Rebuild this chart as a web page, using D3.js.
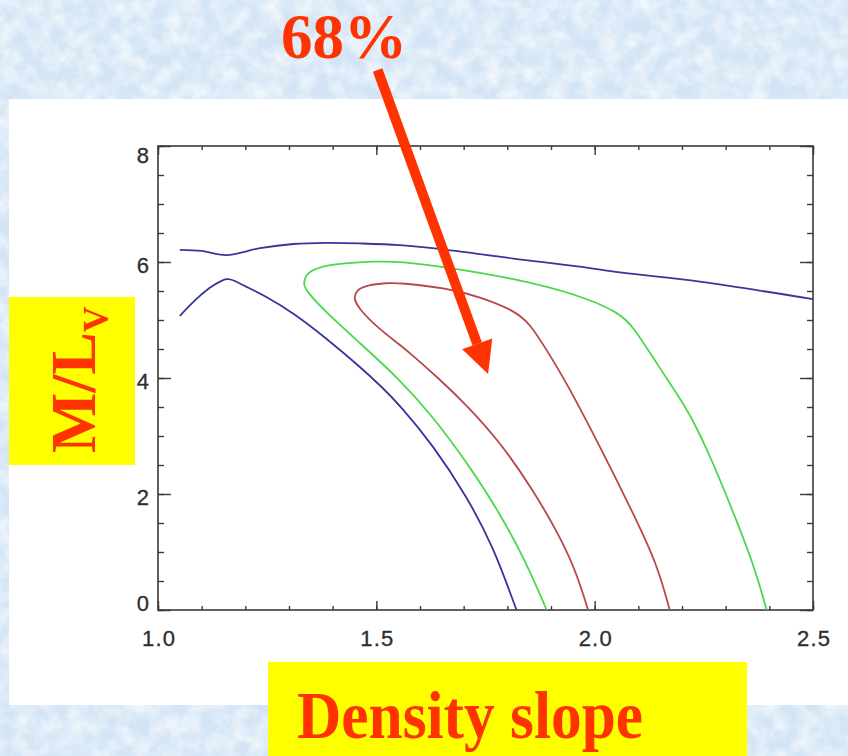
<!DOCTYPE html>
<html>
<head>
<meta charset="utf-8">
<script src="https://cdn.jsdelivr.net/npm/d3@7"></script>
<style>
  html, body { margin: 0; padding: 0; background: #d6e6f6; }
  svg { display: block; }
</style>
</head>
<body>
<svg id="chart" width="848" height="756"></svg>
<script>
// ---------- data ----------
const xTicks = [1.0, 1.5, 2.0, 2.5];
const yTicks = [0, 2, 4, 6, 8];
const xLabel = "Density slope";
const yLabelMain = "M/L";
const yLabelSub = "V";
const annotation = "68%";

// blue contour (outermost level): upper branch and lower branch
const blueUpper = [[1.050,6.21],[1.100,6.19],[1.157,6.12],[1.234,6.24],[1.310,6.31],[1.386,6.33],[1.463,6.32],[1.554,6.29],[1.661,6.21],[1.814,6.06],[1.966,5.92],[2.058,5.82],[2.241,5.66],[2.500,5.36]];
const blueLower = [[1.050,5.07],[1.081,5.32],[1.119,5.57],[1.150,5.70],[1.161,5.71],[1.175,5.68],[1.195,5.60],[1.249,5.40],[1.310,5.12],[1.386,4.68],[1.463,4.19],[1.512,3.85],[1.554,3.53],[1.630,2.84],[1.707,1.96],[1.768,1.09],[1.821,0]];
// green contour
const greenLevel = [[1.890,0],[1.844,0.81],[1.783,1.67],[1.707,2.55],[1.630,3.33],[1.554,3.97],[1.463,4.60],[1.386,5.12],[1.337,5.52],[1.333,5.63],[1.340,5.81],[1.371,5.92],[1.424,5.98],[1.501,6.01],[1.554,6.01],[1.661,5.91],[1.814,5.72],[1.966,5.43],[2.058,5.12],[2.088,4.88],[2.127,4.43],[2.180,3.82],[2.218,3.39],[2.272,2.53],[2.318,1.67],[2.363,0.81],[2.394,0]];
// red contour (68%)
const redLevel = [[1.985,0],[1.959,0.63],[1.921,1.26],[1.859,2.07],[1.783,2.90],[1.707,3.53],[1.646,3.97],[1.585,4.38],[1.554,4.57],[1.501,4.88],[1.463,5.17],[1.447,5.37],[1.455,5.52],[1.478,5.60],[1.524,5.64],[1.554,5.64],[1.661,5.55],[1.737,5.40],[1.814,5.17],[1.852,4.94],[1.890,4.48],[1.932,3.97],[2.012,2.82],[2.088,1.67],[2.142,0.81],[2.172,0]];
// annotation arrow, in data units
const arrowFrom = [1.503, 9.31];
const arrowTo = [1.756, 4.07];

// ---------- layout ----------
const svg = d3.select("#chart");
const W = 848, H = 756;
const plot = {left: 158, right: 813, top: 146, bottom: 610};
const x = d3.scaleLinear().domain([1.0, 2.5]).range([plot.left, plot.right]);
const y = d3.scaleLinear().domain([0, 8]).range([plot.bottom, plot.top]);
const RED = "#ff3300";

// background marble
const defs = svg.append("defs");
const f = defs.append("filter").attr("id", "marble").attr("x", 0).attr("y", 0).attr("width", "100%").attr("height", "100%");
f.append("feTurbulence").attr("type", "fractalNoise").attr("baseFrequency", "0.06").attr("numOctaves", 4).attr("seed", 7);
f.append("feColorMatrix").attr("type", "matrix")
  .attr("values", "0 0 0 0 1  0 0 0 0 1  0 0 0 0 1  1.3 0 0 0 -0.4");
svg.append("rect").attr("width", W).attr("height", H).attr("fill", "#d2e4f5");
svg.append("rect").attr("width", W).attr("height", H).attr("filter", "url(#marble)");

// white panel
svg.append("rect").attr("x", 9).attr("y", 99).attr("width", W - 9).attr("height", 606).attr("fill", "#ffffff");

// axes
const axColor = "#3a3a3a";
function styleAxis(g) {
  g.select(".domain").remove();
  g.selectAll("line").attr("stroke", axColor).attr("stroke-width", 1.4);
  g.selectAll("text").attr("fill", "#2e2e2e").attr("font-family", "'Liberation Sans', Arial, sans-serif")
    .attr("font-size", 22).attr("letter-spacing", 1.2)
    .attr("stroke", "#2e2e2e").attr("stroke-width", 0.3);
}
const xMinor = d3.range(10, 26).map(d => d / 10);
const yMinor = d3.range(0, 17).map(d => d / 2);

// bottom
svg.append("g").attr("transform", `translate(0,${plot.bottom})`)
  .call(d3.axisBottom(x).tickValues(xMinor).tickSize(-4).tickFormat("")).call(styleAxis);
svg.append("g").attr("transform", `translate(0,${plot.bottom})`)
  .call(d3.axisBottom(x).tickValues(xTicks).tickSize(-9).tickFormat(d3.format(".1f"))).call(styleAxis)
  .call(g => g.selectAll("text").attr("y", 36).attr("dy", 0).attr("dx", 0.6));
// top
svg.append("g").attr("transform", `translate(0,${plot.top})`)
  .call(d3.axisTop(x).tickValues(xMinor).tickSize(-4).tickFormat("")).call(styleAxis);
svg.append("g").attr("transform", `translate(0,${plot.top})`)
  .call(d3.axisTop(x).tickValues(xTicks).tickSize(-9).tickFormat("")).call(styleAxis);
// left
svg.append("g").attr("transform", `translate(${plot.left},0)`)
  .call(d3.axisLeft(y).tickValues(yMinor).tickSize(-6).tickFormat("")).call(styleAxis);
svg.append("g").attr("transform", `translate(${plot.left},0)`)
  .call(d3.axisLeft(y).tickValues(yTicks).tickSize(-13).tickFormat(d3.format("d"))).call(styleAxis)
  .call(g => g.selectAll("text").attr("x", -9).attr("letter-spacing", 0)
    .attr("dy", d => d === 8 ? "0.75em" : d === 0 ? "0em" : "0.48em"));
// right
svg.append("g").attr("transform", `translate(${plot.right},0)`)
  .call(d3.axisRight(y).tickValues(yMinor).tickSize(-6).tickFormat("")).call(styleAxis);
svg.append("g").attr("transform", `translate(${plot.right},0)`)
  .call(d3.axisRight(y).tickValues(yTicks).tickSize(-13).tickFormat("")).call(styleAxis);

// frame
svg.append("rect").attr("x", plot.left).attr("y", plot.top)
  .attr("width", plot.right - plot.left).attr("height", plot.bottom - plot.top)
  .attr("fill", "none").attr("stroke", axColor).attr("stroke-width", 1.6);

// contours
const lineCR = d3.line().x(d => x(d[0])).y(d => y(d[1])).curve(d3.curveCatmullRom.alpha(0.5));
const lineSmooth = d3.line().x(d => x(d[0])).y(d => y(d[1])).curve(d3.curveBasis);
const contours = [
  {data: blueUpper, color: "#36369c", gen: lineCR},
  {data: blueLower, color: "#36369c", gen: lineSmooth},
  {data: greenLevel, color: "#4cd84c", gen: lineSmooth},
  {data: redLevel, color: "#b84848", gen: lineSmooth}
];
svg.append("g").selectAll("path").data(contours).join("path")
  .attr("d", d => d.gen(d.data)).attr("fill", "none")
  .attr("stroke", d => d.color).attr("stroke-width", 1.8).attr("stroke-linejoin", "round");

// annotation arrow
const p0 = [x(arrowFrom[0]), y(arrowFrom[1])];
const p1 = [x(arrowTo[0]), y(arrowTo[1])];
const ang = Math.atan2(p1[1] - p0[1], p1[0] - p0[0]);
const headLen = 32, headHalf = 16;
const base = [p1[0] - headLen * Math.cos(ang), p1[1] - headLen * Math.sin(ang)];
svg.append("line").attr("x1", p0[0]).attr("y1", p0[1]).attr("x2", base[0]).attr("y2", base[1])
  .attr("stroke", RED).attr("stroke-width", 10);
svg.append("path").attr("fill", RED).attr("d", d3.line()([
  [base[0] + headHalf * Math.sin(ang), base[1] - headHalf * Math.cos(ang)],
  p1,
  [base[0] - headHalf * Math.sin(ang), base[1] + headHalf * Math.cos(ang)]
]) + "Z");

svg.append("text").attr("x", 281).attr("y", 58).text(annotation)
  .attr("fill", RED).attr("font-family", "'Liberation Serif', 'Times New Roman', serif")
  .attr("font-weight", "bold").attr("font-size", 63);

// y label box
svg.append("rect").attr("x", 9).attr("y", 297).attr("width", 126).attr("height", 168).attr("fill", "#ffff00");
const yl = svg.append("text").attr("transform", "translate(95,453) rotate(-90)")
  .attr("fill", RED).attr("font-family", "'Liberation Serif', 'Times New Roman', serif")
  .attr("font-weight", "bold").attr("font-size", 64);
yl.append("tspan").text(yLabelMain);
yl.append("tspan").text(yLabelSub).attr("font-size", 36).attr("dy", 13);

// x label box
svg.append("rect").attr("x", 268).attr("y", 662).attr("width", 479).attr("height", 100).attr("fill", "#ffff00");
svg.append("text").attr("x", 297).attr("y", 738).text(xLabel)
  .attr("fill", RED).attr("font-family", "'Liberation Serif', 'Times New Roman', serif")
  .attr("font-weight", "bold").attr("font-size", 68)
  .attr("textLength", 346).attr("lengthAdjust", "spacingAndGlyphs");
</script>
</body>
</html>
